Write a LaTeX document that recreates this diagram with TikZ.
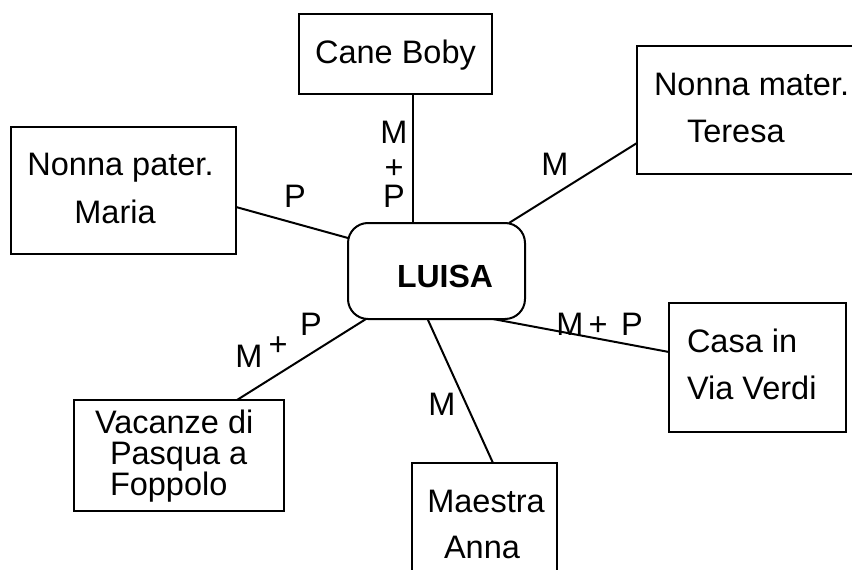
\documentclass[tikz,border=0pt]{standalone}
\usepackage{fontspec}
\setmainfont{Liberation Sans}
\begin{document}
\begin{tikzpicture}[x=1pt,y=-1pt,
  every node/.style={inner sep=0pt, outer sep=0pt},
  box/.style={draw, line width=2pt, rectangle},
  rbox/.style={draw, line width=2pt, rectangle, rounded corners=20pt},
  txt/.style={font=\fontsize{32.5}{32.5}\selectfont, anchor=base},
  txtw/.style={font=\fontsize{32.5}{32.5}\selectfont, anchor=base west},
  lbl/.style={font=\fontsize{32.5}{32.5}\selectfont, anchor=base},
  conn/.style={line width=2pt}]
\useasboundingbox (0,0) rectangle (852,570);
\clip (0,0) rectangle (852,570);
\fill[white] (0,0) rectangle (852,570);

% boxes
\node[box, minimum width=193pt, minimum height=80pt] (cane) at (395.5,54) {};
\node[box, minimum width=225pt, minimum height=127pt] (pater) at (123.5,190.5) {};
\node[box, minimum width=233pt, minimum height=128pt] (mater) at (753.5,110) {};
\node[box, minimum width=177pt, minimum height=129pt] (casa) at (757.5,367.5) {};
\node[box, minimum width=145pt, minimum height=137pt] (maestra) at (484.5,531.5) {};
\node[box, minimum width=210pt, minimum height=111pt] (vacanze) at (179,455.5) {};
\node[rbox, minimum width=177pt, minimum height=96pt] (luisa) at (436.5,271) {};

% texts
\node[txt] (caneT) at (395.5,63) {Cane Boby};
\node[txt] (paterA) at (120.5,175) {Nonna pater.};
\node[txt] (paterB) at (115,223) {Maria};
\node[txtw] (materA) at (654,95) {Nonna mater.};
\node[txtw] (materB) at (687,142) {Teresa};
\node[txtw] (casaA) at (687,352) {Casa in};
\node[txtw] (casaB) at (687,399) {Via Verdi};
\node[txt] (maestraA) at (486,512) {Maestra};
\node[txt] (maestraB) at (482,558) {Anna};
\node[txtw] (vacA) at (95,433) {Vacanze di};
\node[txtw] (vacB) at (110,464) {Pasqua a};
\node[txtw] (vacC) at (110,495) {Foppolo};
\node[font=\fontsize{32}{32}\selectfont\bfseries, anchor=base] (luisaT) at (445,287) {LUISA};

% connector end points
\coordinate (cS) at (413,94);
\coordinate (lN) at (413,223);
\coordinate (pE) at (236,207);
\coordinate (lW) at (348,238);
\coordinate (mW) at (637,143);
\coordinate (lNE) at (509,223);
\coordinate (caW) at (669,352);
\coordinate (lSE) at (493,319);
\coordinate (maN) at (493,463);
\coordinate (lS) at (428,320);
\coordinate (vN) at (237,400);
\coordinate (lSW) at (366,319);

\draw[conn] (cS) -- (lN);
\draw[conn] (pE) -- (lW);
\draw[conn] (mW) -- (lNE);
\draw[conn] (caW) -- (lSE);
\draw[conn] (maN) -- (lS);
\draw[conn] (vN) -- (lSW);

% labels
\node[lbl] (l1a) at (394,143) {M};
\node[lbl] (l1b) at (394,178) {+};
\node[lbl] (l1c) at (394,207) {P};
\node[lbl] (l2) at (295,207) {P};
\node[lbl] (l3) at (555,175) {M};
\node[lbl] (l4a) at (570,335) {M};
\node[lbl] (l4b) at (598,335) {+};
\node[lbl] (l4c) at (632,335) {P};
\node[lbl] (l5) at (442,415) {M};
\node[lbl] (l6a) at (249,367) {M};
\node[lbl] (l6b) at (278,355) {+};
\node[lbl] (l6c) at (311,335) {P};
\end{tikzpicture}
\end{document}
